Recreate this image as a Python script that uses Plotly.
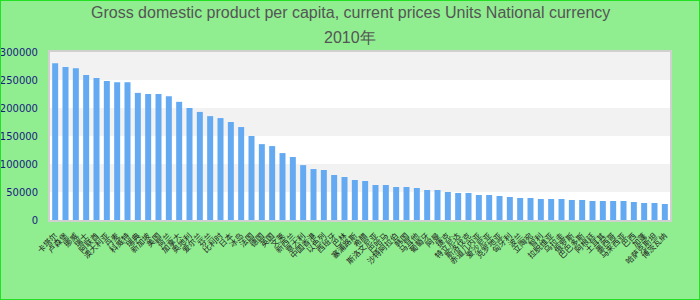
import plotly.graph_objects as go

title_line1 = "Gross domestic product per capita, current prices Units National currency"
title_line2 = "2010年"

categories = [
    "卡塔尔", "卢森堡", "挪威", "瑞士", "阿联酋", "澳大利亚", "丹麦", "科威特",
    "瑞典", "新加坡", "美国", "荷兰", "加拿大", "奥地利", "爱尔兰", "芬兰",
    "比利时", "日本", "冰岛", "法国", "德国", "英国", "文莱", "新西兰",
    "意大利", "中国香港", "以色列", "西班牙", "巴林", "塞浦路斯", "希腊", "斯洛文尼亚",
    "巴哈马", "沙特阿拉伯", "韩国", "马耳他", "葡萄牙", "阿曼", "捷克", "特立尼达",
    "斯洛伐克", "赤道几内亚", "爱沙尼亚", "克罗地亚", "匈牙利", "波兰", "立陶宛", "智利",
    "拉脱维亚", "乌拉圭", "俄罗斯", "巴巴多斯", "阿根廷", "土耳其", "墨西哥", "马来西亚",
    "巴西", "加蓬", "哈萨克斯坦", "博茨瓦纳",
]

values = [
    280000, 273000, 271000, 259000, 253500, 248000, 246000, 246000,
    227000, 225000, 225000, 221000, 211000, 200000, 193000, 185500,
    182000, 175000, 166000, 150000, 135500, 132000, 119500, 112500,
    98000, 91000, 89300, 80400, 76800, 71400, 69600, 62500,
    62500, 58900, 58900, 57100, 53600, 53600, 50000, 48200,
    48200, 44600, 44600, 42900, 41100, 39300, 39300, 37500,
    37500, 37500, 35700, 35700, 33900, 33900, 33900, 33900,
    32100, 30400, 30400, 28600,
]

y_ticks = [0, 50000, 100000, 150000, 200000, 250000, 300000]
band_edges = [(50000, 100000), (150000, 200000), (250000, 300000)]

# plot area geometry (px): left 50, right 670, top 52, bottom 220
PW, PH = 620, 168

fig = go.Figure()
fig.add_trace(go.Bar(
    x=categories, y=values,
    marker=dict(color="#63aaf3", line=dict(width=0)),
    hoverinfo="x+y",
))

shapes = []
for lo, hi in band_edges:
    shapes.append(dict(type="rect", xref="paper", yref="y", x0=0, x1=1, y0=lo, y1=hi,
                       fillcolor="#f2f2f2", line=dict(width=0), layer="below"))
# outer figure border
shapes.append(dict(type="rect", xref="paper", yref="paper",
                   x0=-50/PW, x1=650/PW, y0=-80/PH, y1=1 + 52/PH,
                   line=dict(color="#22e022", width=2), fillcolor="rgba(0,0,0,0)"))

title_font = dict(family="Liberation Sans, Arial, sans-serif", size=16, color="#555555")
annotations = [
    dict(text=title_line1, xref="paper", yref="paper", x=300/PW, y=(220 - 13)/PH,
         xanchor="center", yanchor="middle", showarrow=False, font=title_font),
    dict(text=title_line2, xref="paper", yref="paper", x=300/PW, y=(220 - 37)/PH,
         xanchor="center", yanchor="middle", showarrow=False, font=title_font),
]

fig.update_layout(
    width=700, height=300,
    margin=dict(l=50, r=30, t=52, b=80, autoexpand=False),
    paper_bgcolor="#90ee90",
    plot_bgcolor="#ffffff",
    bargap=0.42,
    showlegend=False,
    shapes=shapes,
    annotations=annotations,
    xaxis=dict(
        automargin=False,
        tickangle=-45,
        tickfont=dict(family="Noto Sans CJK SC, sans-serif", size=8, color="#222222"),
        showline=True, linecolor="#d0d0d0", linewidth=2, mirror=True,
        showgrid=False, ticks="",
        ticklabelstandoff=6,
    ),
    yaxis=dict(
        automargin=False,
        range=[0, 300000],
        tickvals=y_ticks,
        ticktext=[str(v) for v in y_ticks],
        tickfont=dict(family="DejaVu Sans, Verdana, sans-serif", size=10, color="#1a1a80"),
        showline=True, linecolor="#d0d0d0", linewidth=2, mirror=True,
        showgrid=False, zeroline=False, ticks="",
        ticklabelstandoff=8,
    ),
)

fig.write_html("out.html")
